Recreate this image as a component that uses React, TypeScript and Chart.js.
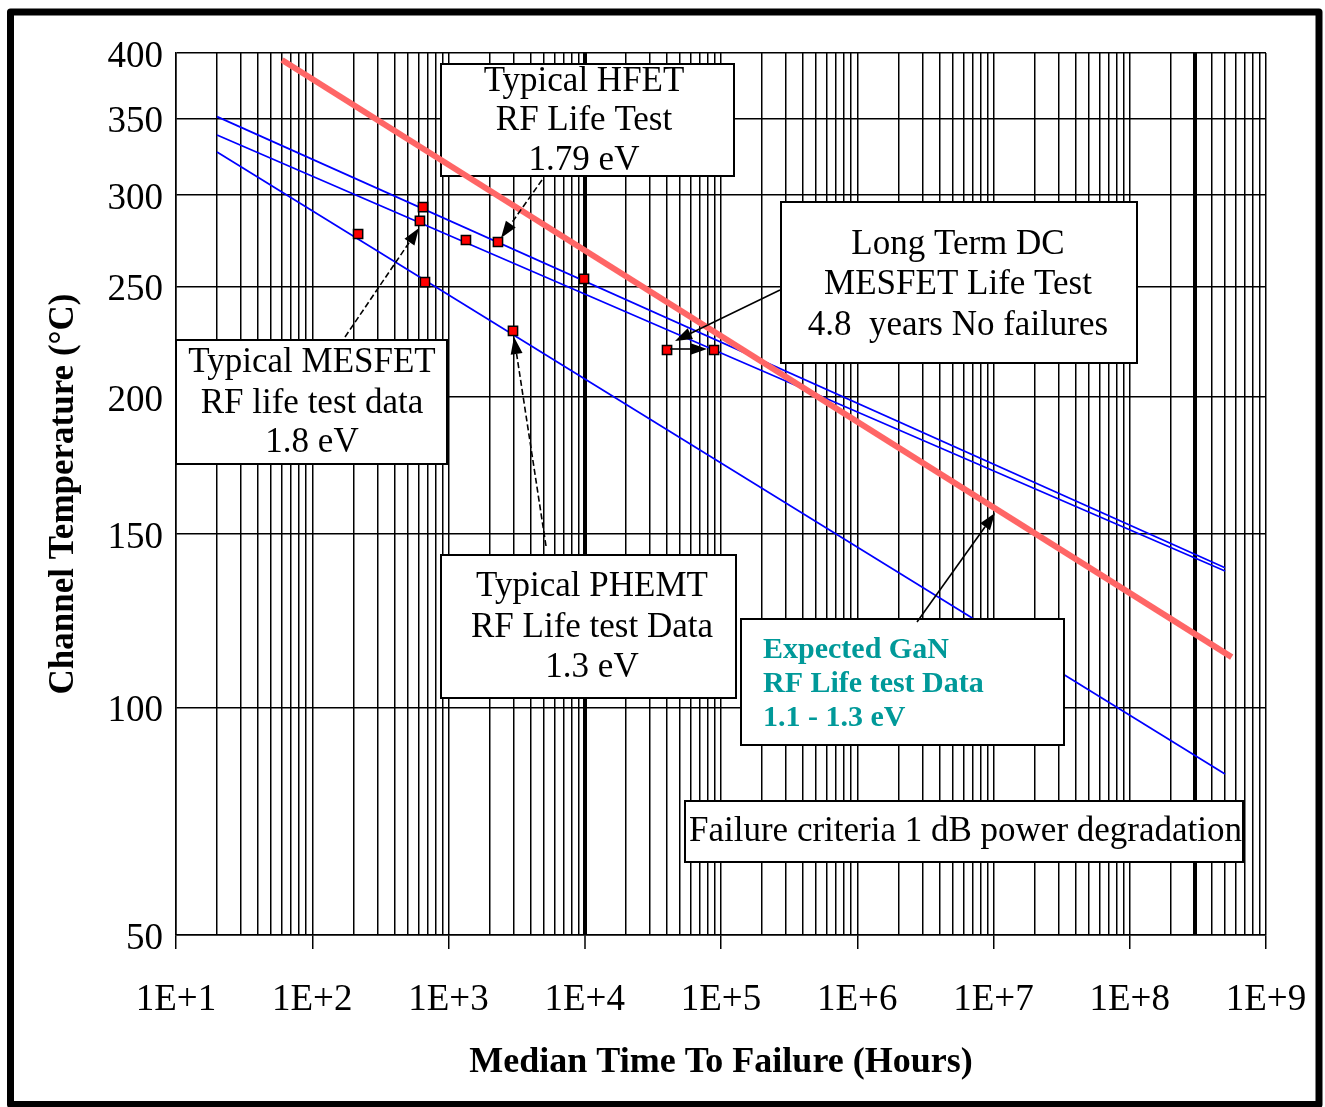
import React, { useEffect, useRef } from "react";
import { Chart, registerables } from "chart.js";

Chart.register(...registerables);

const CANVAS_W = 1325;
const CANVAS_H = 1107;

// ---------------- data (hours, channel temperature °C) ----------------
const gaNExpectedHours = [60, 5.6e8];
const gaNExpectedTempC = [394.3, 113.3];

const hfetFitHours = [20, 5.0e8];
const hfetFitTempC = [351.2, 139.3];

const mesfetFitHours = [20, 5.0e8];
const mesfetFitTempC = [338.4, 138.3];

const phemtFitHours = [20, 5.0e8];
const phemtFitTempC = [327.0, 83.9];

const testPointHours = [217, 650, 617, 672, 1343, 2307, 9874, 2974, 40170, 88850];
const testPointTempC = [277.6, 292.9, 284.9, 252.2, 274.3, 273.2, 253.8, 228.7, 220.1, 220.1];

const yTickTempC = [400, 350, 300, 250, 200, 150, 100, 50];
const yTickLabels = ["400", "350", "300", "250", "200", "150", "100", "50"];

const xDecadeHours = [1e1, 1e2, 1e3, 1e4, 1e5, 1e6, 1e7, 1e8, 1e9];
const xTickLabels = ["1E+1", "1E+2", "1E+3", "1E+4", "1E+5", "1E+6", "1E+7", "1E+8", "1E+9"];
const emphasizedHours = [1e4, 3e8];

// Arrhenius axis: 1000 / T(K)
const toU = (c: number) => 1000 / (c + 273.15);
const pts = (xs: number[], ys: number[]) => xs.map((x, i) => ({ x, y: toU(ys[i]) }));

// log grid: 1..9 x each decade
const xGridHours: number[] = [];
for (let i = 0; i < xDecadeHours.length - 1; i++) {
  for (let k = 1; k <= 9; k++) xGridHours.push(k * xDecadeHours[i]);
}
xGridHours.push(xDecadeHours[xDecadeHours.length - 1]);

const near = (a: number, b: number) => Math.abs(a - b) / b < 1e-6;

const SERIF = '"Liberation Serif", "Times New Roman", serif';

// ---------------- annotations (layout only) ----------------
type Box = { x: number; y: number; w: number; h: number; lines: string[]; cx?: number; lx?: number; ys: number[]; font: string; color: string };
const boxes: Box[] = [
  { x: 441, y: 64, w: 293, h: 112, lines: ["Typical HFET", "RF Life Test", "1.79 eV"], cx: 584, ys: [82, 121, 161], font: `35px ${SERIF}`, color: "#000" },
  { x: 781, y: 202, w: 356, h: 161, lines: ["Long Term DC", "MESFET Life Test", "4.8  years No failures"], cx: 958, ys: [245, 285, 326], font: `35px ${SERIF}`, color: "#000" },
  { x: 176, y: 340, w: 271, h: 124, lines: ["Typical MESFET", "RF life test data", "1.8 eV"], cx: 312, ys: [363, 404, 443], font: `35px ${SERIF}`, color: "#000" },
  { x: 441, y: 555, w: 295, h: 143, lines: ["Typical PHEMT", "RF Life test Data", "1.3 eV"], cx: 592, ys: [587, 628, 668], font: `35px ${SERIF}`, color: "#000" },
  { x: 741, y: 619, w: 323, h: 126, lines: ["Expected GaN", "RF Life test Data", "1.1 - 1.3 eV"], lx: 763, ys: [650, 684, 718], font: `bold 30px ${SERIF}`, color: "#009999" },
  { x: 685, y: 801, w: 558, h: 61, lines: ["Failure criteria 1 dB power degradation"], lx: 689, ys: [832], font: `35px ${SERIF}`, color: "#000" },
];

type Arrow = { from: [number, number]; to: [number, number]; dashed: boolean };
const arrows: Arrow[] = [
  { from: [542, 180], to: [501, 238], dashed: true },
  { from: [345, 337], to: [419, 228], dashed: true },
  { from: [546, 546], to: [514, 337], dashed: true },
  { from: [780, 290], to: [675, 341], dashed: false },
  { from: [670, 349], to: [707, 349], dashed: false },
  { from: [917, 622], to: [995, 513], dashed: false },
];

function drawArrow(ctx: CanvasRenderingContext2D, a: Arrow) {
  const [x1, y1] = a.from;
  const [x2, y2] = a.to;
  const ang = Math.atan2(y2 - y1, x2 - x1);
  const headLen = 17;
  const headHalf = 6;
  const bx = x2 - headLen * Math.cos(ang);
  const by = y2 - headLen * Math.sin(ang);
  ctx.save();
  ctx.strokeStyle = "#000";
  ctx.fillStyle = "#000";
  ctx.lineWidth = 1.6;
  ctx.setLineDash(a.dashed ? [6, 3] : []);
  ctx.beginPath();
  ctx.moveTo(x1, y1);
  ctx.lineTo(bx, by);
  ctx.stroke();
  ctx.setLineDash([]);
  ctx.beginPath();
  ctx.moveTo(x2, y2);
  ctx.lineTo(bx + headHalf * Math.sin(ang), by - headHalf * Math.cos(ang));
  ctx.lineTo(bx - headHalf * Math.sin(ang), by + headHalf * Math.cos(ang));
  ctx.closePath();
  ctx.fill();
  ctx.restore();
}

const annotationPlugin = {
  id: "arrheniusAnnotations",
  beforeDraw(chart: any) {
    const ctx = chart.ctx as CanvasRenderingContext2D;
    ctx.save();
    ctx.fillStyle = "#fff";
    ctx.fillRect(0, 0, chart.width, chart.height);
    ctx.restore();
  },
  beforeDatasetDraw(chart: any, args: any) {
    if (args.index !== 0) return;
    const ctx = chart.ctx as CanvasRenderingContext2D;
    ctx.save();
    for (const b of boxes) {
      ctx.fillStyle = "#fff";
      ctx.fillRect(b.x, b.y, b.w, b.h);
      ctx.strokeStyle = "#000";
      ctx.lineWidth = 2;
      ctx.strokeRect(b.x, b.y, b.w, b.h);
      ctx.fillStyle = b.color;
      ctx.font = b.font;
      ctx.textBaseline = "middle";
      b.lines.forEach((t, i) => {
        if (b.lx !== undefined) {
          ctx.textAlign = "left";
          ctx.fillText(t, b.lx, b.ys[i]);
        } else {
          ctx.textAlign = "center";
          ctx.fillText(t, b.cx as number, b.ys[i]);
        }
      });
    }
    ctx.restore();
  },
  afterDatasetsDraw(chart: any) {
    const ctx = chart.ctx as CanvasRenderingContext2D;
    for (const a of arrows) drawArrow(ctx, a);
  },
  afterDraw(chart: any) {
    const ctx = chart.ctx as CanvasRenderingContext2D;
    ctx.save();
    ctx.strokeStyle = "#000";
    ctx.lineWidth = 7;
    ctx.lineJoin = "round";
    ctx.strokeRect(10.5, 12, 1308.5, 1092.5);
    ctx.restore();
  },
};

export default function App() {
  const ref = useRef<HTMLCanvasElement | null>(null);

  useEffect(() => {
    if (!ref.current) return;
    const chart = new Chart(ref.current, {
      type: "line",
      data: {
        datasets: [
          {
            label: "Expected GaN RF Life test Data",
            data: pts(gaNExpectedHours, gaNExpectedTempC),
            borderColor: "#FF6666",
            borderWidth: 6,
            pointRadius: 0,
            fill: false,
            tension: 0,
          },
          {
            label: "Life test data",
            data: pts(testPointHours, testPointTempC),
            showLine: false,
            pointStyle: "rect",
            pointRadius: 6.5,
            pointBackgroundColor: "#FF0000",
            pointBorderColor: "#000",
            pointBorderWidth: 1.5,
          },
          {
            label: "HFET 1.79 eV",
            data: pts(hfetFitHours, hfetFitTempC),
            borderColor: "#0000FF",
            borderWidth: 1.7,
            pointRadius: 0,
            fill: false,
          },
          {
            label: "MESFET 1.8 eV",
            data: pts(mesfetFitHours, mesfetFitTempC),
            borderColor: "#0000FF",
            borderWidth: 1.7,
            pointRadius: 0,
            fill: false,
          },
          {
            label: "PHEMT 1.3 eV",
            data: pts(phemtFitHours, phemtFitTempC),
            borderColor: "#0000FF",
            borderWidth: 1.7,
            pointRadius: 0,
            fill: false,
          },
        ],
      },
      options: {
        responsive: false,
        animation: false,
        devicePixelRatio: 1,
        events: [],
        layout: { padding: { left: 0, top: 53, right: 59, bottom: 0 } },
        plugins: { legend: { display: false }, tooltip: { enabled: false }, title: { display: false } },
        scales: {
          x: {
            type: "logarithmic",
            min: 10,
            max: 1e9,
            afterBuildTicks: (s: any) => {
              s.ticks = xGridHours.map((v) => ({ value: v }));
            },
            afterFit: (s: any) => {
              s.height = CANVAS_H - 935;
              s.paddingLeft = 0;
              s.paddingRight = 0;
            },
            ticks: {
              autoSkip: false,
              maxRotation: 0,
              minRotation: 0,
              padding: 29,
              color: "#000",
              font: { family: SERIF, size: 37 },
              callback: (v: any) => {
                const idx = xDecadeHours.findIndex((d) => near(Number(v), d));
                return idx >= 0 ? xTickLabels[idx] : "";
              },
            },
            grid: {
              color: "#000",
              lineWidth: (c: any) => (c.tick && emphasizedHours.some((h) => near(c.tick.value, h)) ? 4 : 1.5),
              tickLength: 14,
              tickWidth: 1.5,
              tickColor: (c: any) =>
                c.tick && xDecadeHours.some((d) => near(c.tick.value, d)) ? "#000" : "rgba(0,0,0,0)",
            },
            border: { display: true, color: "#000", width: 1.5 },
            title: {
              display: true,
              text: "Median Time To Failure (Hours)",
              color: "#000",
              font: { family: SERIF, size: 36, weight: "bold" },
              padding: { top: 0, bottom: 23 },
            },
          },
          y: {
            type: "linear",
            reverse: true,
            min: toU(400),
            max: toU(50),
            afterBuildTicks: (s: any) => {
              s.ticks = yTickTempC.map((t) => ({ value: toU(t) }));
            },
            afterFit: (s: any) => {
              s.width = 176;
              s.paddingTop = 0;
              s.paddingBottom = 0;
            },
            ticks: {
              padding: 13,
              labelOffset: 4,
              color: "#000",
              font: { family: SERIF, size: 37 },
              callback: (_v: any, i: number) => yTickLabels[i],
            },
            grid: { color: "#000", lineWidth: 1.5, drawTicks: false },
            border: { display: true, color: "#000", width: 1.5 },
            title: {
              display: true,
              text: "Channel Temperature (°C)",
              color: "#000",
              font: { family: SERIF, size: 35, weight: "bold" },
              padding: { top: 43, bottom: 0 },
            },
          },
        },
      } as any,
      plugins: [annotationPlugin as any],
    });
    return () => chart.destroy();
  }, []);

  return (
    <div style={{ position: "absolute", left: 0, top: 0, width: CANVAS_W, height: CANVAS_H, background: "#fff" }}>
      <canvas ref={ref} width={CANVAS_W} height={CANVAS_H} style={{ display: "block", width: CANVAS_W, height: CANVAS_H }} />
    </div>
  );
}
